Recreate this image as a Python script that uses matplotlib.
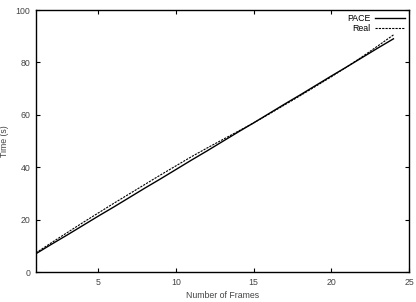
import numpy as np
import matplotlib.pyplot as plt

frames = list(range(1, 25))
pace = [7.0, 10.6, 14.1, 17.7, 21.3, 24.8, 28.4, 32.0, 35.5, 39.1, 42.7, 46.2,
        49.8, 53.4, 56.9, 60.5, 64.1, 67.6, 71.2, 74.8, 78.3, 81.9, 85.5, 89.0]
real = [7.3, 11.2, 15.0, 18.8, 22.5, 26.2, 29.8, 33.4, 37.0, 40.5, 44.0, 47.3,
        50.5, 53.7, 56.9, 60.3, 63.8, 67.3, 70.9, 74.5, 78.3, 82.2, 86.3, 90.5]

plt.rcParams['font.family'] = ['Liberation Sans', 'DejaVu Sans']
plt.rcParams['font.size'] = 6.3

fig = plt.figure(figsize=(4.16, 3.02), dpi=100)
ax = fig.add_axes([36/416, 30/302, 373/416, 262/302])

ax.plot(frames, pace, color='black', lw=1.0, label='PACE')
ax.plot(frames, real, color='black', lw=0.8, ls=(0, (2, 1)), label='Real')

ax.set_xlim(1, 25)
ax.set_ylim(0, 100)
ax.set_xticks([5, 10, 15, 20, 25])
ax.set_yticks([0, 20, 40, 60, 80, 100])
ax.tick_params(direction='in', top=True, right=True, length=3, width=0.8,
               colors='black', labelcolor='#444444', pad=4)
for s in ax.spines.values():
    s.set_linewidth(1.0)
ax.set_xlabel('Number of Frames', color='#444444', labelpad=3)
ax.set_ylabel('Time (s)', color='#444444', labelpad=5)

ax.legend(loc='upper right', bbox_to_anchor=(1.0, 1.0), frameon=False,
          markerfirst=False, handlelength=3.4, handletextpad=0.5,
          labelspacing=0.1, borderaxespad=0.1, fontsize=6.3)

fig.savefig('out.png', dpi=100)
